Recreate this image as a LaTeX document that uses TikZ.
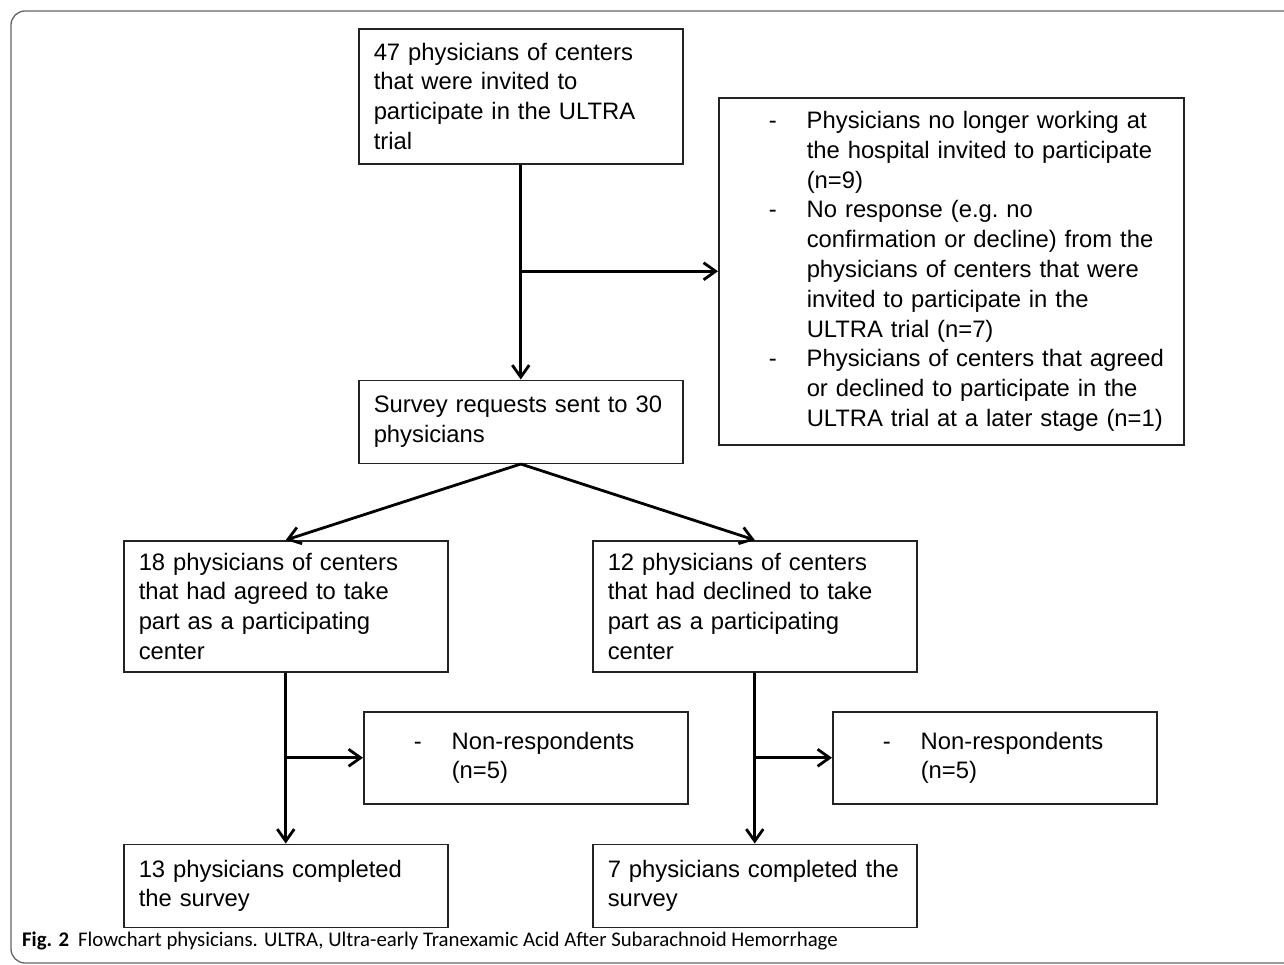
\documentclass[tikz,border=0pt]{standalone}
\usepackage{fontspec}
\setmainfont{Liberation Sans}
\newfontfamily\captionfont{Carlito}
\usepackage{tikz}
\usetikzlibrary{positioning, calc, arrows.meta}
\tikzstyle{stage} = [rectangle, draw=colorBox, line width=1.5pt, anchor=north west, minimum width=324pt, text width=294pt, inner xsep=15pt, inner ysep=2pt, align=left, font=\fontsize{23.8}{29.8}\selectfont]
\tikzstyle{arrow} = [line width=2.8pt, draw=black, -{Straight Barb[length=12pt, width=17pt]}]
\tikzstyle{frame} = [draw=colorFrame, line width=1.3pt, rounded corners=14pt]
\definecolor{colorBox}{RGB}{35, 35, 35}
\definecolor{colorFrame}{RGB}{100, 100, 100}

\newcommand{\dashitem}{\hspace*{35pt}\makebox[38pt][l]{-}}
\newcommand{\dashcont}{\hspace*{73pt}}

\begin{document}
\begin{tikzpicture}[x=1pt, y=-1pt]

	\useasboundingbox (0,0) rectangle (1284,964);

	% outer frame
	\draw[frame] (1300,11) -- (11,11) -- (11,963) -- (1300,963);

	% invited and survey
	\node (pInvited)[stage, minimum height=135pt] at (358,28) {47 physicians of centers\\that were invited to\\participate in the ULTRA\\trial};
	\node (pSurvey)[stage, minimum height=83pt, below=215pt of pInvited] {Survey requests sent to 30\\physicians};

	\node (pExcluded)[stage, minimum width=465pt, text width=435pt, minimum height=347pt] at (718,97) {\dashitem Physicians no longer working at\\\dashcont the hospital invited to participate\\\dashcont (n=9)\\\dashitem No response (e.g.\ no\\\dashcont confirmation or decline) from the\\\dashcont physicians of centers that were\\\dashcont invited to participate in the\\\dashcont ULTRA trial (n=7)\\\dashitem Physicians of centers that agreed\\\dashcont or declined to participate in the\\\dashcont ULTRA trial at a later stage (n=1)};

	% agreed / declined
	\node (pAgreed)[stage, minimum height=131pt] at (123,540) {18 physicians of centers\\that had agreed to take\\part as a participating\\center};
	\node (pDeclined)[stage, minimum height=131pt] at (592,540) {12 physicians of centers\\that had declined to take\\part as a participating\\center};

	\node (pNonRespAgreed)[stage, minimum height=92pt] at (363,711) {\dashitem Non-respondents\\\dashcont (n=5)};
	\node (pNonRespDeclined)[stage, minimum height=92pt] at (832,711) {\dashitem Non-respondents\\\dashcont (n=5)};

	\node (pDoneAgreed)[stage, minimum height=83pt, below=171pt of pAgreed] {13 physicians completed\\the survey};
	\node (pDoneDeclined)[stage, minimum height=83pt, below=171pt of pDeclined] {7 physicians completed the\\survey};

	\node (caption)[anchor=west, inner sep=0pt, font=\captionfont\fontsize{20.8}{24}\selectfont] at (22,941) {\textbf{Fig. 2}\hspace{9pt}Flowchart physicians. ULTRA, Ultra-early Tranexamic Acid After Subarachnoid Hemorrhage};

	% branch points
	\coordinate (splitTop) at (pInvited.south |- pExcluded.west);
	\coordinate (splitAgreed) at (pAgreed.south |- pNonRespAgreed.west);
	\coordinate (splitDeclined) at (pDeclined.south |- pNonRespDeclined.west);

	% lines and arrows
	\draw[arrow](pInvited.south) -- (pSurvey.north);
	\draw[arrow](splitTop) -- (pExcluded.west);

	\draw[arrow](pSurvey.south) -- (pAgreed.north);
	\draw[arrow](pSurvey.south) -- (pDeclined.north);

	\draw[arrow](pAgreed.south) -- (pDoneAgreed.north);
	\draw[arrow](splitAgreed) -- (pNonRespAgreed.west);
	\draw[arrow](pDeclined.south) -- (pDoneDeclined.north);
	\draw[arrow](splitDeclined) -- (pNonRespDeclined.west);

\end{tikzpicture}
\end{document}
